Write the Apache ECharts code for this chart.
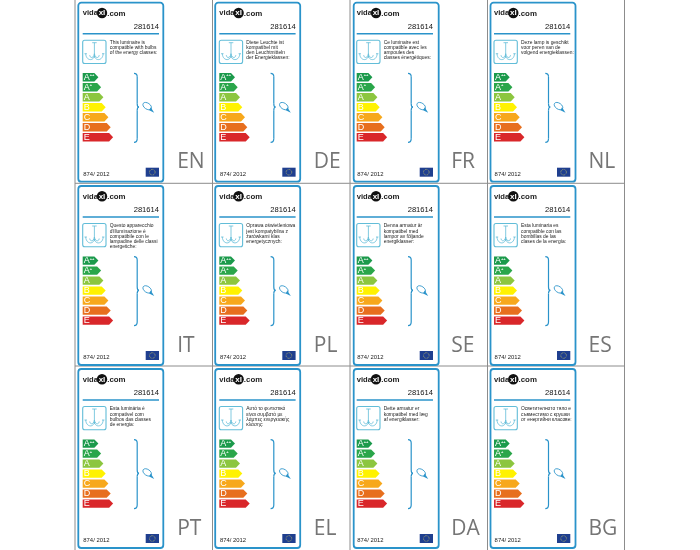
<!DOCTYPE html>
<html>
<head>
<meta charset="utf-8">
<style>
    html, body { margin: 0; padding: 0; background: #fff; }
    #main { width: 700px; height: 550px; }
</style>
<script src="https://cdn.jsdelivr.net/npm/echarts@6/dist/echarts.min.js"></script>
</head>
<body>
<div id="main"></div>
<script>
// values
var languageCodes = ['EN', 'DE', 'FR', 'NL', 'IT', 'PL', 'SE', 'ES', 'PT', 'EL', 'DA', 'BG'];
var ratingClasses = ['A++', 'A+', 'A', 'B', 'C', 'D', 'E'];
var arrowLengths = [15.7, 18.4, 20.7, 23, 25.7, 28, 30.4];
var productCode = '281614';
var regulationText = '874/ 2012';
var descriptions = [
    ['This luminaire is', 'compatible with bulbs', 'of the energy classes:'],
    ['Diese Leuchte ist', 'kompatibel mit', 'den Leuchtmitteln', 'der Energieklassen:'],
    ['Ce luminaire est', 'compatible avec les', 'ampoules des', 'classes énergétiques:'],
    ['Deze lamp is geschikt', 'voor peren van de', 'volgend energieklassen:'],
    ['Questo apparecchio', "d'illuminazione è", 'compatibile con le', 'lampadine delle classi', 'energetiche:'],
    ['Oprawa oświetleniowa', 'jest kompatybilna z', 'żarówkami klas', 'energetycznych:'],
    ['Denna armatur är', 'kompatibel med', 'lampor av följande', 'energiklasser:'],
    ['Esta luminaria es', 'compatible con las', 'bombillas de las', 'clases de la energía:'],
    ['Esta luminária é', 'compatível com', 'bulbos das classes', 'de energia:'],
    ['Αυτό το φωτιστικό', 'είναι συμβατό με', 'λάμπες ενεργειακής', 'κλάσης:'],
    ['Dette armatur er', 'kompatibel med læg', 'af energiklasser:'],
    ['Осветителното тяло е', 'съвместимо с крушки', 'от енергийни класове:']
];

// layout
var ratingColors = ['#1b9a4b', '#2aa64a', '#8cc63f', '#fff200', '#f7a81c', '#e76f1e', '#d9272a'];
var frameLeft = [78.3, 215.2, 353.7, 490.5];
var contentLeft = [82.7, 219.3, 356.7, 494];
var rowTop = [2.7, 186, 369];
var blue = '#2a93ca';
var lightBlue = '#62bdd8';
var fontName = '"Liberation Sans", sans-serif';

// [x1, y1, x2, y2] is a line, [x1, y1, cx1, cy1, cx2, cy2, x2, y2] a curve
var bracketSegments = [
    [51.3, 70.6, 54, 70.6, 54.5, 72, 54.5, 74],
    [54.5, 74, 54.5, 101],
    [54.5, 101, 54.5, 103, 55, 104.3, 56.3, 104.3],
    [56.3, 104.3, 55, 104.3, 54.5, 105.6, 54.5, 107.6],
    [54.5, 107.6, 54.5, 136],
    [54.5, 136, 54.5, 138.5, 54, 139.6, 51.3, 139.6]
];
var chandelierSegments = [
    [9.5, 2.5, 14, 2.5],
    [11.7, 2.5, 11.7, 17.5],
    [11.7, 15.5, 11, 21, 3.5, 21, 3, 13.5],
    [11.7, 15.5, 12.4, 21, 20, 21, 20.5, 13.5],
    [11.7, 13.5, 11, 18, 7.5, 18.5, 7, 15],
    [11.7, 13.5, 12.4, 18, 16, 18.5, 16.5, 15],
    [1.8, 13.5, 4.2, 13.5],
    [19.3, 13.5, 21.7, 13.5]
];

function strokeSegments(segments, color, width, dy) {
    return segments.map(function (s) {
        var style = { fill: null, stroke: color, lineWidth: width };
        if (s.length === 4) {
            return { type: 'line', y: dy, shape: { x1: s[0], y1: s[1], x2: s[2], y2: s[3] }, style: style };
        }
        return {
            type: 'bezierCurve',
            y: dy,
            shape: { x1: s[0], y1: s[1], cpx1: s[2], cpy1: s[3], cpx2: s[4], cpy2: s[5], x2: s[6], y2: s[7] },
            style: style
        };
    });
}

function textEl(x, y, text, font, fill, align, lineHeight) {
    return {
        type: 'text',
        silent: true,
        style: {
            x: x,
            y: y,
            text: text,
            font: font,
            fill: fill,
            align: align || 'left',
            verticalAlign: lineHeight ? 'top' : 'middle',
            lineHeight: lineHeight
        }
    };
}

function cardElements(index) {
    var col = index % 4;
    var top = rowTop[Math.floor(index / 4)];

    var frame = {
        type: 'rect',
        shape: { x: frameLeft[col], y: top, width: 85, height: 179, r: 3 },
        style: { fill: '#fff', stroke: blue, lineWidth: 1.8 }
    };
    var group = {
        type: 'group',
        x: contentLeft[col],
        y: top,
        children: [
            { type: 'rect', shape: { x: 0, y: 37.5, width: 23.3, height: 23.3, r: 2 }, style: { fill: '#fff', stroke: lightBlue, lineWidth: 1.1 } },
            { type: 'ellipse', x: 64.5, y: 103.4, rotation: -0.6, shape: { cx: 0, cy: 0, rx: 4.8, ry: 3 }, style: { fill: '#fff', stroke: blue, lineWidth: 0.8 } },
            { type: 'polygon', shape: { points: [[68, 104.5], [66.5, 107.5], [71.5, 110]] }, style: { fill: blue } },
            { type: 'rect', shape: { x: 0, y: 30.2, width: 76.3, height: 1.5 }, style: { fill: blue } },
            { type: 'rect', shape: { x: 63, y: 165, width: 13.3, height: 9 }, style: { fill: '#1f3f8f' } },
            { type: 'circle', shape: { cx: 69.6, cy: 169.5, r: 2.8 }, style: { fill: null, stroke: '#e3d75a', lineWidth: 0.7, lineDash: [0.7, 0.75] } },
            { type: 'circle', shape: { cx: 19.3, cy: 10.3, r: 5.2 }, style: { fill: '#111' } },
            textEl(0, 10.5, 'vida', 'bold 7.6px ' + fontName, '#222'),
            textEl(19.3, 10.3, 'xl', 'bold 8px ' + fontName, '#fff', 'center'),
            textEl(24.5, 11, '.com', 'bold 7.9px ' + fontName, '#222'),
            textEl(76.3, 24.2, productCode, '7.6px ' + fontName, '#111', 'right'),
            textEl(27, 37.6, descriptions[index].join('\n'), '4.9px ' + fontName, '#1c1c1c', 'left', 5.1),
            textEl(0.6, 171.6, regulationText, '5.9px ' + fontName, '#222'),
            textEl(94.5, 159.5 + Math.floor(index / 4) * 0.5, languageCodes[index], '21px "Open Sans", sans-serif', '#757575')
        ].concat(
            strokeSegments(bracketSegments, blue, 1.2, 0),
            strokeSegments(chandelierSegments, lightBlue, 0.8, 37.5)
        )
    };
    return [frame, group];
}

// grey table lines between the cells
function separators() {
    var lines = [];
    [75, 212.5, 350, 487.5, 624.5].forEach(function (x) {
        lines.push({ type: 'line', shape: { x1: x, y1: 0, x2: x, y2: 550 }, style: { stroke: '#8c8c8c', lineWidth: 1 } });
    });
    [183.3, 366].forEach(function (y) {
        lines.push({ type: 'line', shape: { x1: 75, y1: y, x2: 624.5, y2: y }, style: { stroke: '#8c8c8c', lineWidth: 1 } });
    });
    return lines;
}

function renderArrow(params, api) {
    var length = api.value(0);
    var band = api.value(1);
    var start = api.coord([0, band]);
    var end = api.coord([length, band]);
    var h = 4.2;
    var label = ratingClasses[band];
    var children = [{
        type: 'polygon',
        shape: {
            points: [
                [start[0], start[1] - h],
                [end[0] - 4, start[1] - h],
                [end[0], start[1]],
                [end[0] - 4, start[1] + h],
                [start[0], start[1] + h]
            ]
        },
        style: { fill: ratingColors[band] }
    }, {
        type: 'text',
        style: {
            x: start[0] + 1,
            y: start[1] + 0.3,
            text: label.charAt(0),
            font: '9px ' + fontName,
            fill: '#fff',
            verticalAlign: 'middle'
        }
    }];
    if (label.length > 1) {
        children.push({
            type: 'text',
            style: {
                x: start[0] + 7,
                y: start[1] - 2,
                text: label.slice(1),
                font: 'bold 4px ' + fontName,
                fill: '#fff',
                verticalAlign: 'middle'
            }
        });
    }
    return { type: 'group', children: children };
}

var grids = [];
var xAxes = [];
var yAxes = [];
var seriesList = [];
var graphics = separators();

languageCodes.forEach(function (code, i) {
    var col = i % 4;
    var row = Math.floor(i / 4);
    graphics = graphics.concat(cardElements(i));
    grids.push({ left: contentLeft[col], top: rowTop[row] + 69.6, width: 40, height: 70 });
    xAxes.push({ type: 'value', gridIndex: i, min: 0, max: 40, show: false });
    yAxes.push({ type: 'category', gridIndex: i, inverse: true, show: false, data: ratingClasses });
    seriesList.push({
        type: 'custom',
        name: code,
        xAxisIndex: i,
        yAxisIndex: i,
        z: 20,
        clip: false,
        encode: { x: 0, y: 1 },
        renderItem: renderArrow,
        data: arrowLengths.map(function (v, k) { return [v, ratingClasses[k]]; })
    });
});

var myChart = echarts.init(document.getElementById('main'));
myChart.setOption({
    animation: false,
    backgroundColor: '#fff',
    grid: grids,
    xAxis: xAxes,
    yAxis: yAxes,
    series: seriesList,
    graphic: { elements: graphics }
});
</script>
</body>
</html>
